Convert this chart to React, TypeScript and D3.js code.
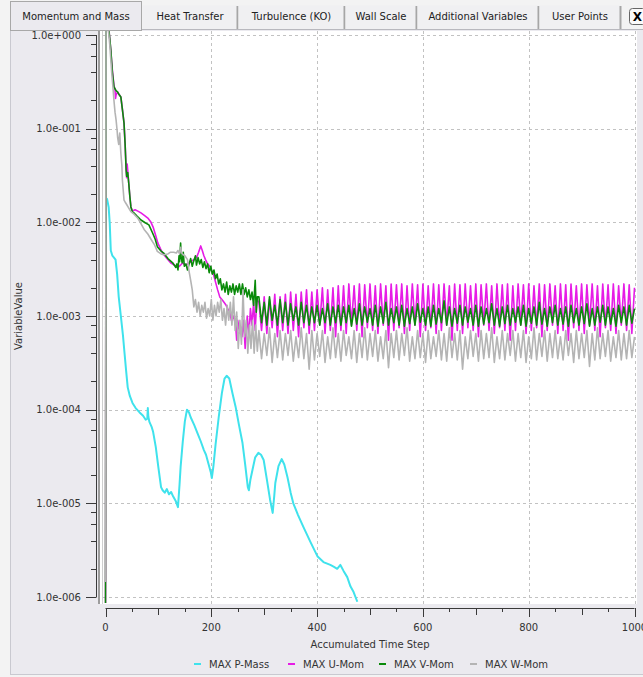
import React, { useEffect } from "react";
import * as d3 from "d3";

// ---------- data ----------
const TAB_LABELS = ["Momentum and Mass", "Heat Transfer", "Turbulence (KO)", "Wall Scale", "Additional Variables", "User Points"];
const SERIES_NAMES = ["MAX P-Mass", "MAX U-Mom", "MAX V-Mom", "MAX W-Mom"];
const SERIES_COLORS = ["#3FE2EC", "#E61CE6", "#0A8A0A", "#B4B4B4"];
const X_TICKS = [0, 200, 400, 600, 800, 1000];
const Y_DECADES = [1, 1e-1, 1e-2, 1e-3, 1e-4, 1e-5, 1e-6];
const Y_TICK_LABELS = ["1.0e+000", "1.0e-001", "1.0e-002", "1.0e-003", "1.0e-004", "1.0e-005", "1.0e-006"];

// [step, value]
const P_MASS: [number, number][] = [
  [2, 1.8e-2], [3, 1.77e-2], [6, 1.45e-2], [8, 9.8e-3], [10, 5.0e-3], [13, 4.4e-3], [16, 4.2e-3], [19, 4.0e-3],
  [22, 2.8e-3], [25, 1.6e-3], [29, 1.0e-3], [33, 6.2e-4], [36, 4.0e-4], [39, 2.6e-4], [42, 1.73e-4], [46, 1.4e-4],
  [51, 1.18e-4], [57, 1.04e-4], [64, 9.4e-5], [71, 8.6e-5], [76, 7.8e-5], [79, 8.0e-5], [80, 1.04e-4], [81, 8.4e-5],
  [83, 7.4e-5], [87, 6.6e-5], [90, 5.8e-5], [95, 4.0e-5], [100, 2.4e-5], [105, 1.49e-5], [108, 1.38e-5], [112, 1.3e-5],
  [116, 1.42e-5], [120, 1.25e-5], [124, 1.32e-5], [128, 1.18e-5], [133, 1.05e-5], [137, 9.1e-6], [140, 1.6e-5],
  [142, 2.45e-5], [146, 4.5e-5], [150, 7.5e-5], [154, 1.0e-4], [158, 9.3e-5], [161, 8.3e-5], [168, 6.8e-5],
  [174, 5.6e-5], [180, 4.6e-5], [186, 3.7e-5], [190, 3.3e-5], [195, 2.6e-5], [199, 2.15e-5], [201, 1.86e-5],
  [204, 2.5e-5], [208, 4.2e-5], [214, 8.3e-5], [220, 1.5e-4], [225, 2.15e-4], [229, 2.3e-4], [234, 2.15e-4],
  [240, 1.5e-4], [246, 1.07e-4], [252, 7.0e-5], [259, 4.4e-5], [264, 2.6e-5], [269, 1.49e-5], [271, 1.38e-5],
  [274, 1.8e-5], [278, 2.3e-5], [283, 3.1e-5], [289, 3.46e-5], [294, 3.3e-5], [299, 2.9e-5], [305, 1.8e-5],
  [311, 1.1e-5], [316, 7.9e-6], [319, 1.2e-5], [321, 1.65e-5], [327, 2.5e-5], [333, 2.97e-5], [338, 2.6e-5],
  [344, 1.9e-5], [350, 1.3e-5], [355, 1.0e-5], [364, 7.5e-6], [374, 5.6e-6], [388, 3.8e-6], [401, 2.7e-6],
  [412, 2.36e-6], [425, 2.2e-6], [432, 2.1e-6], [438, 2.0e-6], [444, 2.2e-6], [450, 1.9e-6], [457, 1.63e-6],
  [463, 1.3e-6], [469, 1.13e-6], [476, 8.9e-7],
];

const U_EARLY: [number, number][] = [
  [0, 2e-7], [1, 1.5], [7, 1.05], [9, 0.8], [10, 0.69], [13, 0.42], [16, 0.29], [18, 0.26], [19, 0.21], [20, 0.23],
  [23, 0.246], [26, 0.23], [29, 0.218], [32, 0.16], [35, 0.115], [37, 0.07], [39, 0.038], [40, 0.03], [41, 0.042],
  [42, 0.036], [44, 0.026], [46, 0.019], [48, 0.0146], [51, 0.0132], [56, 0.0136], [62, 0.0131], [67, 0.0126],
  [74, 0.0118], [80, 0.0111], [86, 0.01], [90, 0.0089], [95, 0.0072], [99, 0.006], [104, 0.0052], [108, 0.0047],
  [115, 0.0042], [123, 0.0037], [130, 0.0035], [137, 0.0033], [142, 0.0035], [146, 0.0037], [151, 0.0035],
  [156, 0.0036], [161, 0.0038], [167, 0.004], [172, 0.0042], [176, 0.0048], [180, 0.0056], [183, 0.005],
  [186, 0.0044], [189, 0.004], [193, 0.0036], [197, 0.0034], [200, 0.0031], [204, 0.0028], [208, 0.0023],
  [212, 0.0019], [216, 0.0016], [220, 0.0015], [224, 0.0014], [228, 0.0013], [231, 0.0012], [235, 0.0011],
  [238, 0.0009], [242, 0.001], [246, 0.0008], [248, 0.00055], [250, 0.0009], [253, 0.0007], [255, 0.00078],
  [258, 0.0006], [261, 0.0009], [264, 0.00045], [266, 0.0007], [268, 0.001], [271, 0.0006], [274, 0.0012],
  [277, 0.0008], [280, 0.0014], [283, 0.0007], [286, 0.0015],
];

const V_EARLY: [number, number][] = [
  [0, 5e-7], [1, 1.5], [7, 1.05], [9, 0.8], [10, 0.69], [13, 0.4], [16, 0.28], [20, 0.255], [23, 0.246], [26, 0.23],
  [29, 0.218], [32, 0.16], [35, 0.115], [37, 0.07], [39, 0.036], [40, 0.031], [42, 0.034], [44, 0.026], [46, 0.019],
  [48, 0.0146], [51, 0.0129], [54, 0.0126], [60, 0.0116], [67, 0.0106], [75, 0.0099], [82, 0.0094], [89, 0.0077],
  [94, 0.0066], [98, 0.0055], [104, 0.005], [110, 0.0047], [118, 0.0041], [127, 0.0037], [133, 0.0033], [135, 0.0036],
  [137, 0.0031], [139, 0.0044], [140, 0.0038], [142, 0.006], [143, 0.0042], [145, 0.0037], [147, 0.0048],
  [149, 0.0034], [152, 0.0036], [155, 0.0031], [158, 0.0036], [161, 0.0041], [164, 0.0034], [167, 0.0039],
  [170, 0.0044], [172, 0.0035], [175, 0.0042], [178, 0.0036], [181, 0.004], [184, 0.0033], [187, 0.0038],
  [190, 0.0032], [193, 0.0036], [196, 0.0029], [199, 0.0034], [202, 0.0028], [205, 0.0031], [208, 0.0025],
  [211, 0.0028], [214, 0.0022], [217, 0.0025], [220, 0.0019], [223, 0.0022], [226, 0.0018], [229, 0.0023],
  [232, 0.0017], [235, 0.0021], [238, 0.0018], [241, 0.0022], [244, 0.0017], [247, 0.0021], [250, 0.0018],
  [253, 0.0022], [256, 0.0017], [259, 0.0022], [262, 0.0017], [265, 0.002], [268, 0.0016], [271, 0.0019],
  [274, 0.0015], [277, 0.0018], [280, 0.0013], [283, 0.0024], [285, 0.0011], [287, 0.0016],
];

const W_EARLY: [number, number][] = [
  [0, 1.45e-6], [1, 1.5], [6, 1.05], [8, 0.8], [10, 0.55], [12, 0.38], [14, 0.28], [16, 0.2], [18, 0.15], [20, 0.124],
  [22, 0.095], [23, 0.08], [25, 0.068], [26, 0.08], [27, 0.09], [28, 0.07], [29, 0.055], [31, 0.04], [32, 0.028],
  [35, 0.0173], [37, 0.0165], [40, 0.0155], [44, 0.0142], [48, 0.013], [54, 0.0122], [61, 0.0111], [67, 0.0097],
  [73, 0.0084], [80, 0.0075], [86, 0.0066], [93, 0.0057], [98, 0.0049], [105, 0.0046], [110, 0.0045], [118, 0.0046],
  [123, 0.0048], [129, 0.0048], [134, 0.0047], [137, 0.005], [140, 0.0046], [142, 0.0054], [144, 0.0047],
  [147, 0.0045], [150, 0.0044], [155, 0.004], [158, 0.003], [161, 0.0024], [164, 0.0019], [167, 0.00125],
  [170, 0.0015], [173, 0.0011], [176, 0.0014], [179, 0.001], [182, 0.0013], [185, 0.0011], [188, 0.0014],
  [191, 0.00095], [194, 0.0012], [197, 0.001], [200, 0.0015], [203, 0.0009], [206, 0.0013], [209, 0.001],
  [212, 0.0014], [215, 0.0011], [218, 0.0015], [221, 0.0009], [224, 0.0012], [227, 0.0008], [230, 0.0013],
  [233, 0.0009], [236, 0.0014], [239, 0.0008], [242, 0.0016], [245, 0.0007], [248, 0.0011], [251, 0.00045],
  [254, 0.0009], [257, 0.0005], [260, 0.0019], [263, 0.0006], [266, 0.0009], [269, 0.0004], [272, 0.0008],
  [275, 0.00045], [278, 0.0009], [281, 0.0004], [284, 0.0008], [287, 0.00042],
];

// oscillating part: one value every 5 steps from step 290 to 1000, in units of 1e-4
const OSC_START = 290;
const OSC_EVERY = 5;
const OSC_UNIT = 1e-4;

const U_OSC = [
  14, 7, 16, 6.5, 15, 7.5, 17, 6, 16, 7,
  17, 6.5, 18, 7, 17, 6, 18, 7.5, 19, 6.5,
  18, 7, 19, 8, 20, 6.5, 19, 7, 20, 6,
  21, 7, 21, 6.5, 22, 8, 21, 7, 22, 6,
  21.5, 7.5, 22, 7, 21, 6.5, 22, 8, 21, 5.5,
  22, 7, 21.5, 7.5, 22, 6.5, 21, 7, 22, 8,
  21.5, 6, 22, 7, 21, 7.5, 22, 6.5, 21.5, 7,
  22, 8, 21, 5.5, 22, 7, 21.5, 6.5, 22, 7.5,
  21, 7, 22, 6, 21.5, 8, 22, 7, 21, 6.5,
  22, 7.5, 21.5, 7, 22, 5.5, 21, 7, 22, 8,
  21.5, 6.5, 22, 7, 21, 7.5, 22, 6, 21.5, 7,
  22, 8, 21, 6.5, 22, 7, 21.5, 5.5, 22, 7.5,
  21, 7, 22, 6.5, 21.5, 8, 22, 7, 21, 6,
  22, 7.5, 21.5, 7, 22, 6.5, 21, 8, 22, 7,
  21.5, 6.5, 20,
];

const V_OSC = [
  16, 8.5, 14, 8, 16, 9, 13, 8, 15, 8.5,
  14, 8, 13.5, 9, 12.5, 8, 14, 8.5, 13, 8,
  12.5, 8.5, 13, 8, 12, 8.5, 13.5, 8, 12.5, 8.5,
  13, 8, 12.5, 8.5, 13, 7.8, 12, 8.2, 13.5, 8,
  12.5, 8.6, 12, 8, 13, 7.8, 12.5, 8.4, 14, 8,
  12, 8.5, 12.5, 8, 13, 7.8, 12, 8.3, 12.5, 8,
  13.5, 8.6, 12, 8, 12.5, 7.8, 13, 8.2, 12, 8.5,
  14.5, 8, 12.5, 7.8, 12, 8.4, 13, 8, 12.5, 8.6,
  12, 8, 13, 7.8, 12.5, 8.2, 12, 8.5, 13.5, 8,
  12, 7.8, 12.5, 8.3, 13, 8, 12, 8.6, 12.5, 8,
  13, 7.8, 12, 8.4, 12.5, 8, 14, 8.2, 12, 7.8,
  12.5, 8.5, 13, 8, 12, 8.2, 12.5, 7.8, 13, 8.5,
  12, 8, 12.5, 8.3, 13.5, 7.8, 12, 8, 12.5, 8.6,
  13, 8, 12.5, 8.2, 12, 7.8, 13, 8.5, 12.5, 8,
  13, 8.4, 12,
];

const W_OSC = [
  7, 3.5, 6.5, 3.8, 7.5, 3.2, 6.5, 3.6, 7, 3.4,
  6.5, 3.8, 7, 3.3, 6, 3.6, 7.5, 3.5, 6.5, 2.7,
  7, 3.4, 6.5, 3.7, 7, 3.2, 6, 3.5, 7.5, 3.6,
  6.5, 3.3, 7, 3.8, 6, 3.5, 7, 3.2, 6.5, 3.6,
  7.5, 3.4, 6.5, 3.7, 7, 3.3, 6, 3.5, 7, 2.8,
  6.5, 3.6, 7, 3.4, 6.5, 3.8, 7.5, 3.3, 6, 3.5,
  7, 3.6, 6.5, 3.2, 7, 3.5, 6, 3.7, 7, 3.4,
  6.5, 3.3, 7.5, 3.6, 6.5, 3.4, 7, 2.7, 6, 3.5,
  7, 3.7, 6.5, 3.3, 7, 3.5, 6.5, 3.6, 7.5, 3.2,
  6, 3.5, 7, 3.4, 6.5, 3.8, 7, 3.3, 6.5, 3.6,
  7, 3.2, 6, 3.5, 7.5, 3.4, 6.5, 3.7, 7, 3.3,
  6.5, 3.6, 7, 3.5, 6, 3.4, 7, 3.8, 6.5, 3.2,
  7, 3.5, 6.5, 3.6, 7, 2.9, 6.5, 3.4, 7.5, 3.5,
  6.5, 3.7, 7, 3.3, 6, 3.6, 7, 3.4, 6.5, 3.5,
  7, 3.6, 6,
];

// ---------- layout ----------
const W = 643;
const H = 677;
const FONT = "'DejaVu Sans', Verdana, sans-serif";
const TAB_EDGES = [10, 142, 238, 345, 417, 539, 621];
const LEGEND_DASH_X = [194, 288, 379, 470];

function withOsc(early: [number, number][], osc: number[]): [number, number][] {
  return early.concat(osc.map((v, i) => [OSC_START + OSC_EVERY * i, v * OSC_UNIT] as [number, number]));
}

export default function App() {
  useEffect(() => {
    document.body.style.margin = "0";
  }, []);

  const x = d3.scaleLinear().domain([0, 1000]).range([105.5, 634.5]);
  const y = d3.scaleLog().domain([1e-6, 1]).range([597, 35]);
  const line = d3
    .line<[number, number]>()
    .x((d) => x(d[0]))
    .y((d) => y(d[1]));

  const series = [
    P_MASS,
    withOsc(U_EARLY, U_OSC),
    withOsc(V_EARLY, V_OSC),
    withOsc(W_EARLY, W_OSC),
  ];

  const plot = { x0: 100, x1: 637, y0: 31, y1: 604 };
  const xMinor = d3.range(0, 1001, 50);
  const yMinor: number[] = [];
  Y_DECADES.slice(1).forEach((d) => [2, 4, 6, 8].forEach((m) => yMinor.push(m * d)));

  const axisColor = "#3a3a3a";
  const textColor = "#333";
  const panel = "#EBEAEF";

  return (
    <svg
      width={W}
      height={H}
      style={{ position: "absolute", left: 0, top: 0, display: "block" }}
      fontFamily={FONT}
      fontSize={10}
    >
      <rect x={0} y={0} width={W} height={H} fill="#F3F3F3" />
      {/* panel */}
      <rect x={10.5} y={29.5} width={W} height={H - 32} fill={panel} stroke="#C9C9D0" />
      {/* tabs */}
      {TAB_LABELS.map((t, i) => {
        const a = TAB_EDGES[i];
        const b = TAB_EDGES[i + 1];
        const sel = i === 0;
        return (
          <g key={t}>
            <rect
              x={a + 0.5}
              y={sel ? 1.5 : 5.5}
              width={b - a - 1}
              height={sel ? 29 : 24}
              fill={sel ? panel : "#F0F0F2"}
              stroke={sel ? "#A8A8A8" : "none"}
            />
            {!sel && <line x1={b - 0.5} x2={b - 0.5} y1={6} y2={29} stroke="#A6A6A6" strokeWidth={2} />}
            <text x={(a + b) / 2} y={20} textAnchor="middle" fill="#222">
              {t}
            </text>
          </g>
        );
      })}
      <line x1={142} x2={W} y1={29.5} y2={29.5} stroke="#B8B8BE" />
      <rect x={629.5} y={8.5} width={16} height={16} rx={3} fill="#FAFAFA" stroke="#666" />
      <text x={637.5} y={21} textAnchor="middle" fontWeight="bold" fontSize={12} fill="#000">
        X
      </text>

      {/* plot background */}
      <rect x={plot.x0} y={plot.y0} width={plot.x1 - plot.x0} height={plot.y1 - plot.y0} fill="#fff" />
      <line x1={99} x2={99} y1={plot.y0} y2={plot.y1} stroke="#9C9C9C" strokeWidth={2} />
      <line x1={102.5} x2={102.5} y1={plot.y0} y2={plot.y1} stroke="#CFCFCF" strokeWidth={1} />

      {/* grid */}
      {Y_DECADES.map((d) => (
        <line
          key={"gy" + d}
          x1={103}
          x2={plot.x1}
          y1={Math.round(y(d)) + 0.5}
          y2={Math.round(y(d)) + 0.5}
          stroke="#C2C2C2"
          strokeDasharray="3,3"
        />
      ))}
      {X_TICKS.slice(1).map((t) => (
        <line
          key={"gx" + t}
          x1={Math.round(x(t)) + 0.5}
          x2={Math.round(x(t)) + 0.5}
          y1={plot.y0}
          y2={plot.y1}
          stroke="#C2C2C2"
          strokeDasharray="3,3"
        />
      ))}

      {/* data */}
      <defs>
        <clipPath id="plotclip">
          <rect x={103} y={plot.y0} width={plot.x1 - 103} height={plot.y1 - plot.y0 - 1} />
        </clipPath>
      </defs>
      <g clipPath="url(#plotclip)" fill="none" strokeLinejoin="round">
        {series.map((s, i) => (
          <path key={SERIES_NAMES[i]} d={line(s) || ""} stroke={SERIES_COLORS[i]} strokeWidth={i === 0 ? 2 : 1.6} />
        ))}
      </g>

      {/* y axis */}
      <line x1={96.5} x2={96.5} y1={y(1)} y2={y(1e-6)} stroke={axisColor} />
      {Y_DECADES.map((d, i) => (
        <g key={"yt" + d}>
          <line x1={86} x2={96.5} y1={Math.round(y(d)) + 0.5} y2={Math.round(y(d)) + 0.5} stroke={axisColor} />
          <text x={81} y={y(d) + 3.5} textAnchor="end" fill={textColor}>
            {Y_TICK_LABELS[i]}
          </text>
        </g>
      ))}
      {yMinor.map((v) => (
        <line key={"ym" + v} x1={91} x2={96.5} y1={Math.round(y(v)) + 0.5} y2={Math.round(y(v)) + 0.5} stroke={axisColor} />
      ))}
      <text transform={`translate(22,${(y(1) + y(1e-6)) / 2}) rotate(-90)`} textAnchor="middle" fill={textColor}>
        VariableValue
      </text>

      {/* x axis */}
      <line x1={x(0)} x2={x(1000)} y1={608.5} y2={608.5} stroke={axisColor} />
      {xMinor.map((t) => {
        const len = t % 200 === 0 ? 9 : t % 100 === 0 ? 7 : 4;
        return (
          <line
            key={"xt" + t}
            x1={Math.round(x(t)) + 0.5}
            x2={Math.round(x(t)) + 0.5}
            y1={608}
            y2={608 + len}
            stroke={axisColor}
          />
        );
      })}
      {X_TICKS.map((t) => (
        <text key={"xl" + t} x={x(t)} y={631} textAnchor="middle" fill={textColor}>
          {t}
        </text>
      ))}
      <text x={(x(0) + x(1000)) / 2} y={648} textAnchor="middle" fill={textColor}>
        Accumulated Time Step
      </text>

      {/* legend */}
      {SERIES_NAMES.map((n, i) => (
        <g key={"lg" + n}>
          <line
            x1={LEGEND_DASH_X[i]}
            x2={LEGEND_DASH_X[i] + 7}
            y1={664}
            y2={664}
            stroke={SERIES_COLORS[i]}
            strokeWidth={2}
          />
          <text x={LEGEND_DASH_X[i] + 15} y={668} fill={textColor}>
            {n}
          </text>
        </g>
      ))}
    </svg>
  );
}
